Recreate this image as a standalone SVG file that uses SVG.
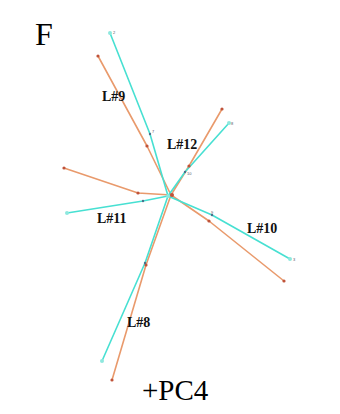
<svg xmlns="http://www.w3.org/2000/svg" width="340" height="414" viewBox="0 0 340 414">
<style>
.o{fill:none;stroke:#e99a6c;stroke-width:1.6;stroke-linejoin:round}
.c{fill:none;stroke:#47e0d2;stroke-width:1.6;stroke-linejoin:round}
.od{fill:#c0533a}
.ce{fill:#8ee8de}
.cd{fill:#4a6f8c}
.lbl{font-family:"Liberation Serif",serif;font-weight:bold;font-size:14px;fill:#111}
.n{font-family:"Liberation Sans",sans-serif;font-size:4px;fill:#556}
.big{font-family:"Liberation Serif",serif;fill:#000}
</style>
<rect width="340" height="414" fill="#fff"/>
<g id="connectors">
<polyline class="o" points="98,56 147,146 171,195"/>
<polyline class="o" points="222,109 189,166 171,195"/>
<polyline class="o" points="64,168 138,193 171,195"/>
<polyline class="o" points="171,195 209,221 284,281"/>
<polyline class="o" points="171,195 146,265 112,380"/>
<polyline class="c" points="110,33 150,134 168,196"/>
<polyline class="c" points="229,123 185,172 168,196"/>
<polyline class="c" points="67,213 143,201 168,196"/>
<polyline class="c" points="168,196 212,215 290,259"/>
<polyline class="c" points="168,196 145,263 102,361"/>
</g>
<g id="orange-points">
<circle class="od" cx="98" cy="56" r="1.6"/>
<circle class="od" cx="147" cy="146" r="1.6"/>
<circle class="od" cx="222" cy="109" r="1.6"/>
<circle class="od" cx="189" cy="166" r="1.6"/>
<circle class="od" cx="64" cy="168" r="1.6"/>
<circle class="od" cx="138" cy="193" r="1.6"/>
<circle class="od" cx="209" cy="221" r="1.6"/>
<circle class="od" cx="284" cy="281" r="1.6"/>
<circle class="od" cx="146" cy="265" r="1.6"/>
<circle class="od" cx="112" cy="380" r="1.6"/>
<circle class="od" cx="172" cy="195" r="2"/>
</g>
<g id="cyan-points">
<circle class="ce" cx="110" cy="33" r="2"/>
<circle class="ce" cx="229" cy="123" r="2"/>
<circle class="ce" cx="67" cy="213" r="2"/>
<circle class="ce" cx="290" cy="259" r="2"/>
<circle class="ce" cx="102" cy="361" r="2"/>
<circle class="ce" cx="168" cy="196" r="2"/>
<circle class="cd" cx="150" cy="134" r="1.2"/>
<circle class="cd" cx="185" cy="172" r="1.2"/>
<circle class="cd" cx="143" cy="201" r="1.2"/>
<circle class="cd" cx="212" cy="215" r="1.2"/>
<circle class="cd" cx="145" cy="263" r="1.2"/>
<text class="n" x="113" y="34">2</text>
<text class="n" x="152" y="133">7</text>
<text class="n" x="231" y="125">8</text>
<text class="n" x="187" y="175">10</text>
<text class="n" x="211" y="214">9</text>
<text class="n" x="293" y="261">3</text>
</g>
<g id="L9"><text class="lbl" x="102" y="101">L#9</text></g>
<g id="L12"><text class="lbl" x="167" y="149">L#12</text></g>
<g id="L11"><text class="lbl" x="97" y="223">L#11</text></g>
<g id="L10"><text class="lbl" x="247" y="233">L#10</text></g>
<g id="L8"><text class="lbl" x="127" y="327">L#8</text></g>
<text class="big" x="35" y="45" font-size="32">F</text>
<text class="big" x="142" y="400" font-size="29">+PC4</text>
</svg>
